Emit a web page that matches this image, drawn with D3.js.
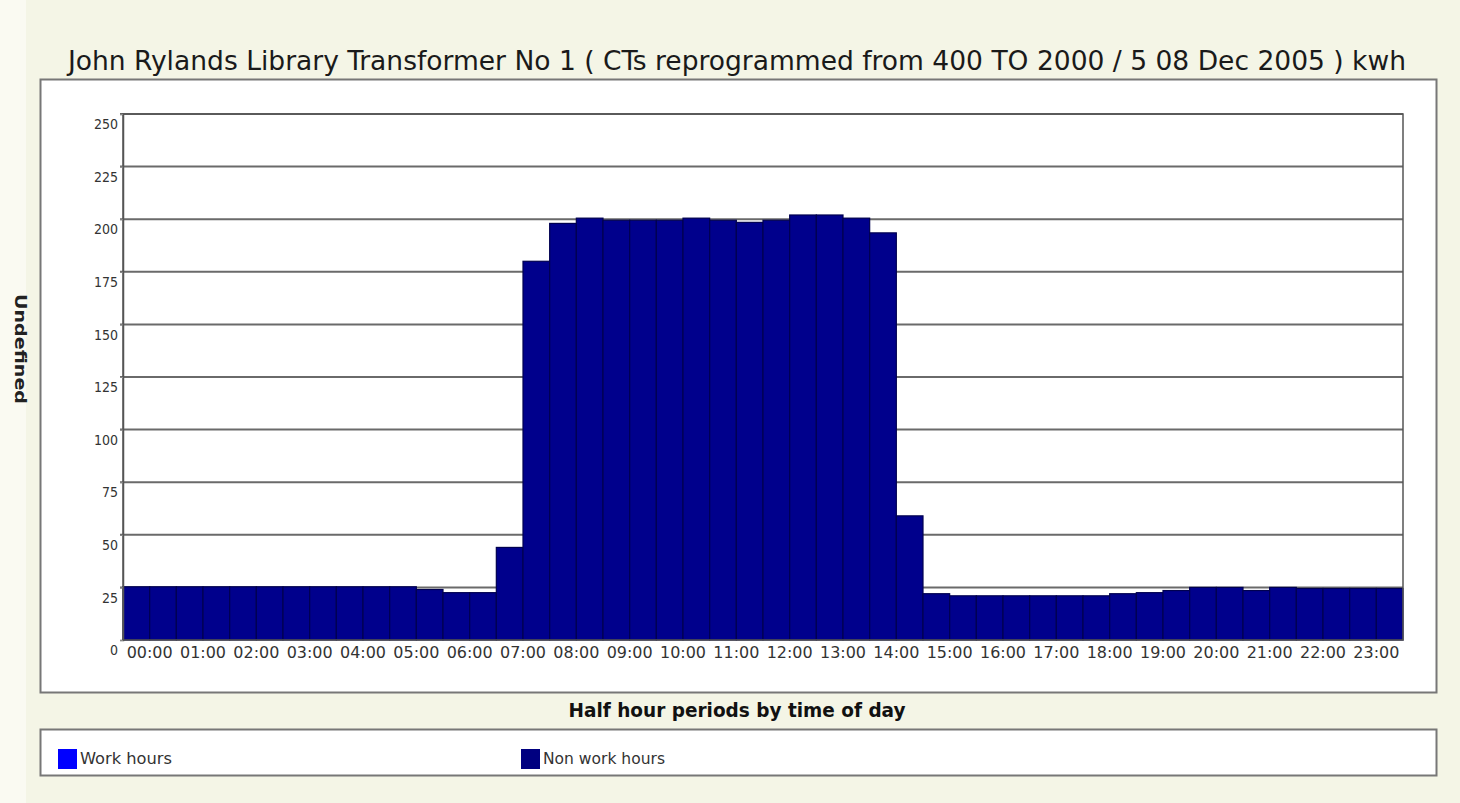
<!DOCTYPE html>
<html><head><meta charset="utf-8">
<script src="https://cdn.jsdelivr.net/npm/d3@7"></script>
<style>body{margin:0;background:#f4f5e6;}svg{display:block;}</style>
</head><body>
<svg id="c" width="1460" height="803"></svg>
<script>
const title = "John Rylands Library Transformer No 1 ( CTs reprogrammed from 400 TO 2000 / 5 08 Dec 2005 ) kwh";
const periods = ["00:00","00:30","01:00","01:30","02:00","02:30","03:00","03:30","04:00","04:30","05:00","05:30",
  "06:00","06:30","07:00","07:30","08:00","08:30","09:00","09:30","10:00","10:30","11:00","11:30",
  "12:00","12:30","13:00","13:30","14:00","14:30","15:00","15:30","16:00","16:30","17:00","17:30",
  "18:00","18:30","19:00","19:30","20:00","20:30","21:00","21:30","22:00","22:30","23:00","23:30"];
const kwh = [25.3,25.3,25.3,25.3,25.3,25.3,25.3,25.3,25.3,25.3,25.3,24,
  22.5,22.5,44,180,198,200.5,199.5,199.5,199.5,200.5,199.5,198.5,
  199.5,202,202,200.5,193.5,59,22,21,21,21,21,21,
  21,22,22.5,23.5,25,25,23.5,25,24.5,24.5,24.5,24.5];
const yTicks = [0,25,50,75,100,125,150,175,200,225,250];
const xLabels = ["00:00","01:00","02:00","03:00","04:00","05:00","06:00","07:00","08:00","09:00","10:00","11:00",
  "12:00","13:00","14:00","15:00","16:00","17:00","18:00","19:00","20:00","21:00","22:00","23:00"];
const legendItems = ["Work hours","Non work hours"];
const legendColors = ["#0000ff","#000080"];

const svg = d3.select("#c");
const font = "Tahoma, 'DejaVu Sans Condensed', 'DejaVu Sans', sans-serif";

// background
svg.append("rect").attr("width",1460).attr("height",803).attr("fill","#f4f5e6");
svg.append("rect").attr("x",0).attr("y",0).attr("width",26).attr("height",803).attr("fill","#fafaf2");

// title
svg.append("text").attr("x",68).attr("y",70).attr("textLength",1338).attr("lengthAdjust","spacingAndGlyphs")
  .attr("font-family",font).attr("font-size",26).attr("fill","#1a1a1a").text(title);

// chart panel
svg.append("rect").attr("x",40.5).attr("y",79.5).attr("width",1396).attr("height",613)
  .attr("fill","#ffffff").attr("stroke","#777").attr("stroke-width",2);

const L=123, R=1403, T=114, B=640;
const x = d3.scaleBand().domain(periods).range([L,R]).padding(0);
const y = d3.scaleLinear().domain([0,250]).range([B,T]);

// gridlines
svg.append("g").selectAll("line").data(yTicks.filter(d=>d>0)).join("line")
  .attr("x1",L-3).attr("x2",R).attr("y1",d=>y(d)).attr("y2",d=>y(d))
  .attr("stroke","#6a6a6a").attr("stroke-width",2);

// bars
svg.append("g").selectAll("rect").data(periods).join("rect")
  .attr("x",d=>x(d)).attr("width",x.bandwidth())
  .attr("y",(d,i)=>y(kwh[i])).attr("height",(d,i)=>B-y(kwh[i]))
  .attr("fill","#00008c").attr("stroke","#000050").attr("stroke-width",1.2);

// plot frame
svg.append("rect").attr("x",L).attr("y",T).attr("width",R-L).attr("height",B-T)
  .attr("fill","none").attr("stroke","#555").attr("stroke-width",1.5);

// y axis
const yAxis = d3.axisLeft(y).tickValues(yTicks).tickSize(3).tickFormat(d3.format("d"));
const gy = svg.append("g").attr("transform",`translate(${L},0)`).call(yAxis);
gy.select(".domain").attr("stroke","#555").attr("stroke-width",1.5);
gy.selectAll(".tick line").attr("stroke","#888");
gy.selectAll(".tick text").attr("dy","1.05em").attr("x",-5)
  .attr("font-family",font).attr("font-size",14).attr("fill","#333");

// x axis labels
const gx = svg.append("g");
gx.selectAll("text").data(xLabels).join("text")
  .attr("x",d=>x(d)+x.bandwidth()).attr("y",658)
  .attr("text-anchor","middle").attr("font-family",font).attr("font-size",15).attr("fill","#333")
  .attr("textLength",46).attr("lengthAdjust","spacingAndGlyphs")
  .text(d=>d);

// axis titles
svg.append("text").attr("transform","translate(15,349) rotate(90)").attr("text-anchor","middle")
  .attr("font-family",font).attr("font-size",16).attr("font-weight","bold").attr("fill","#222")
  .attr("textLength",110).attr("lengthAdjust","spacingAndGlyphs").text("Undefined");
svg.append("text").attr("x",737).attr("y",717).attr("text-anchor","middle")
  .attr("font-family",font).attr("font-size",19).attr("font-weight","bold").attr("fill","#111")
  .attr("textLength",337).attr("lengthAdjust","spacingAndGlyphs")
  .text("Half hour periods by time of day");

// legend
svg.append("rect").attr("x",40.5).attr("y",729.5).attr("width",1396).attr("height",46)
  .attr("fill","#ffffff").attr("stroke","#777").attr("stroke-width",2);
const lg = svg.append("g").selectAll("g").data(legendItems).join("g")
  .attr("transform",(d,i)=>`translate(${i===0?58:521},749)`);
lg.append("rect").attr("width",19).attr("height",20).attr("fill",(d,i)=>legendColors[i]);
lg.append("text").attr("x",22).attr("y",15).attr("font-family",font).attr("font-size",15)
  .attr("fill","#333").attr("textLength",(d,i)=>i===0?92:122).attr("lengthAdjust","spacingAndGlyphs")
  .text(d=>d);
</script>
</body></html>
